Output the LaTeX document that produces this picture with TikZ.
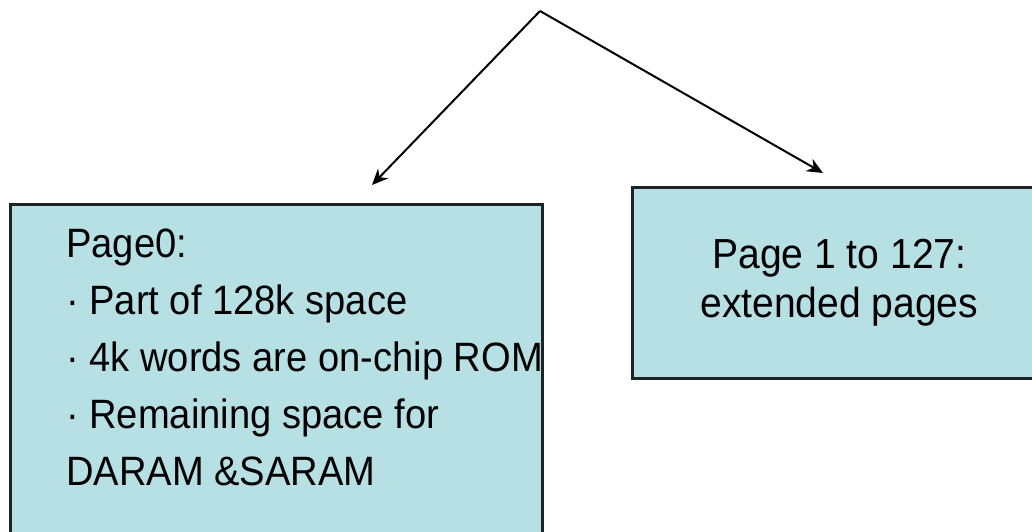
\documentclass[tikz,border=0pt]{standalone}
\usepackage{fontspec}
\setmainfont{Liberation Sans}[FakeStretch=0.93]
\usetikzlibrary{arrows.meta}
\definecolor{pagecyan}{RGB}{183, 224, 228}
\definecolor{edgegray}{RGB}{30, 36, 38}

\begin{document}
\begin{tikzpicture}[x=1pt, y=1pt,
                    pagebox/.style={draw=edgegray, line width=2.6pt, fill=pagecyan, inner sep=0pt},
                    pagetext/.style={font=\fontsize{41}{57}\selectfont, inner sep=0pt}]
                    \useasboundingbox (0,0) rectangle (1032,531);
                    \clip (0,0) rectangle (1032,531);

                    \coordinate (apex) at (540,520);
                    \coordinate (tipzero) at (372,346);
                    \coordinate (tipext) at (823,358);

                    \node[pagebox, anchor=north west, minimum width=532pt, minimum height=345pt] (pagezero) at (9,328) {};
                    \node[pagetext, anchor=base west, align=left] (pagezerotext) at (66,46)
                        {Page0:\\ · Part of 128k space\\ · 4k words are on-chip ROM\\ · Remaining space for\\ DARAM \&SARAM};
                    \node[pagebox, anchor=north west, minimum width=414pt, minimum height=191pt,
                          font=\fontsize{42}{49}\selectfont, align=center] (pageext) at (631,345)
                        {Page 1 to 127:\\ extended pages};

                    \draw[line width=2pt, -{Stealth[length=16pt, width=14pt]}] (apex) -- (tipzero);
                    \draw[line width=2pt, -{Stealth[length=16pt, width=14pt]}] (apex) -- (tipext);
                \end{tikzpicture}
\end{document}
